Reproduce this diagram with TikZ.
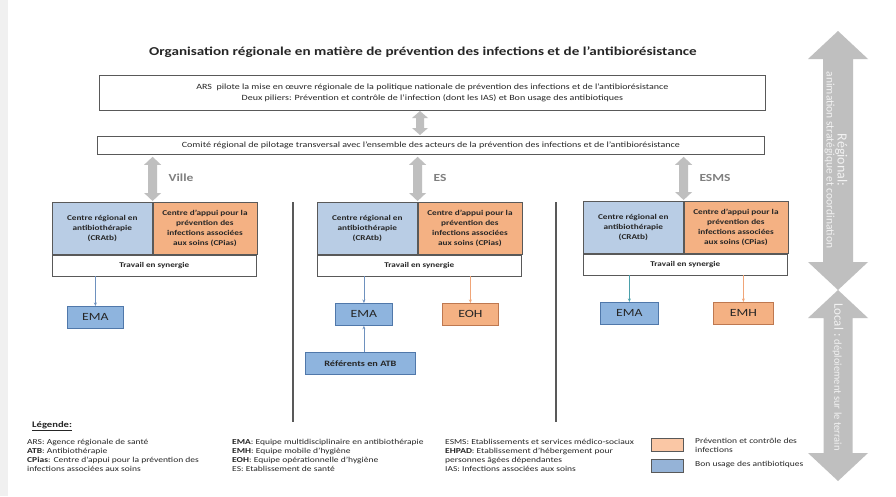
\documentclass[tikz,border=0pt]{standalone}
\usepackage{fontspec}
\setmainfont{Carlito}[FakeStretch=1.25]
\newfontfamily\rotfont{Carlito}
\usetikzlibrary{arrows.meta,calc}
\definecolor{lblue}{RGB}{185,205,229}
\definecolor{lorange}{RGB}{244,177,131}
\definecolor{mblue}{RGB}{142,180,222}
\definecolor{swor}{RGB}{250,199,165}
\definecolor{swbl}{RGB}{149,179,215}
\definecolor{garrow}{RGB}{191,191,191}
\definecolor{bord}{RGB}{89,89,89}
\definecolor{txt}{RGB}{38,38,38}
\definecolor{lbl}{RGB}{127,127,127}
\definecolor{cblue}{RGB}{110,145,190}
\definecolor{cteal}{RGB}{75,160,170}
\definecolor{corange}{RGB}{240,165,120}
\definecolor{sblueb}{RGB}{80,120,170}
\definecolor{soranb}{RGB}{190,120,80}
\definecolor{rtext}{RGB}{242,242,242}
\newcommand\blockarrow[5]{%
  \fill[garrow] let \p1=#1, \p2=#2 in
   (\x1,\y1) -- (\x1+#4pt,\y1-#5pt) -- (\x1+#3pt,\y1-#5pt) -- (\x1+#3pt,\y2+#5pt)
   -- (\x1+#4pt,\y2+#5pt) -- (\x1,\y2) -- (\x1-#4pt,\y2+#5pt) -- (\x1-#3pt,\y2+#5pt)
   -- (\x1-#3pt,\y1-#5pt) -- (\x1-#4pt,\y1-#5pt) -- cycle;}
\begin{document}
\begin{tikzpicture}[x=1pt,y=-1pt,
  every node/.style={text=txt},
  bigbox/.style={draw=bord, line width=0.8pt, anchor=north west, align=center, inner sep=0pt,
    font=\fontsize{8}{10.5}\selectfont},
  cbox/.style={draw=bord, line width=0.6pt, fill=lblue, minimum width=100pt, minimum height=52pt,
    inner sep=1pt, align=center, anchor=north west, font=\fontsize{7.4}{9.8}\selectfont\bfseries},
  obox/.style={cbox, fill=lorange, minimum width=104pt},
  trbox/.style={draw=bord, line width=0.6pt, fill=white, minimum width=204pt, minimum height=21pt,
    anchor=north west, font=\fontsize{7.3}{9}\selectfont\bfseries},
  sbox/.style={draw=sblueb, line width=0.8pt, fill=mblue, minimum width=56pt, minimum height=22pt,
    anchor=north west, inner sep=0pt, font=\fontsize{11}{12}\selectfont},
  ebox/.style={sbox, draw=soranb, fill=lorange},
  conn/.style={-{Stealth[length=3.5pt,width=3pt]}, line width=0.7pt},
  glabel/.style={text=lbl, font=\fontsize{10.8}{12}\selectfont\bfseries},
  leg/.style={anchor=west, align=left, inner sep=0pt, font=\fontsize{7.6}{8.8}\selectfont},
  sep/.style={draw=bord, line width=1.6pt}
]
\useasboundingbox (0,0) rectangle (896,496);
\fill[white] (0,0) rectangle (896,496);
\fill[black!6] (0,0) rectangle (8,496);

% title
\node[font=\fontsize{12.1}{14}\selectfont\bfseries] (title) at (423,52)
  {Organisation régionale en matière de prévention des infections et de l’antibiorésistance};

% top boxes
\node[bigbox, minimum width=666pt, minimum height=35pt] (ars) at (99,75)
  {ARS\ \ pilote la mise en œuvre régionale de la politique nationale de prévention des infections et de l’antibiorésistance\\
   Deux piliers: Prévention et contrôle de l’infection (dont les IAS) et Bon usage des antibiotiques};
\node[bigbox, minimum width=667pt, minimum height=18pt] (comite) at (97,136)
  {Comité régional de pilotage transversal avec l’ensemble des acteurs de la prévention des infections et de l’antibiorésistance};

\coordinate (a1) at (420,111);
\blockarrow{(a1)}{($(a1 |- comite.north)+(0,-1)$)}{4}{8}{7}

% groups
\foreach \g/\xx/\yy in {v/52/202, e/317/202, m/583/201}{
  \node[cbox] (\g b) at (\xx,\yy) {Centre régional en\\antibiothérapie\\(CRAtb)};
  \node[obox] (\g o) at (\g b.north east) {Centre d’appui pour la\\prévention des\\infections associées\\aux soins (CPias)};
  \node[trbox] (\g t) at (\g b.south west) {Travail en synergie};
  \blockarrow{($(\g b.north east |- comite.south)+(0,2)$)}{($(\g b.north east)+(0,-1)$)}{4.5}{8.5}{8}
}
\node[glabel] (lv) at (181,178) {Ville};
\node[glabel] (le) at (440,178) {ES};
\node[glabel] (lm) at (715,178) {ESMS};

% separators
\coordinate (s1t) at (293,202); \coordinate (s1b) at (293,422);
\coordinate (s2t) at (556,202); \coordinate (s2b) at (556,422);
\draw[sep] (s1t) -- (s1b);
\draw[sep] (s2t) -- (s2b);

% level 2
\node[sbox] (vema) at (67,306) {EMA};
\draw[conn, cblue] (vema.north |- vt.south) -- (vema.north);

\node[sbox, minimum width=57pt] (eema) at (335,303) {EMA};
\node[ebox] (eeoh) at (442,303) {EOH};
\node[sbox, minimum width=110pt, font=\fontsize{8.2}{9}\selectfont\bfseries] (eref) at (305,352) {Référents en ATB};
\draw[conn, cblue] (eema.north |- et.south) -- (eema.north);
\draw[conn, cblue] (eema.south |- eref.north) -- (eema.south);
\draw[conn, corange] (eeoh.north |- et.south) -- (eeoh.north);

\node[sbox, minimum width=58pt] (mema) at (600,302) {EMA};
\node[ebox, minimum width=60pt] (memh) at (713,302) {EMH};
\draw[conn, cteal] (mema.north |- mt.south) -- (mema.north);
\draw[conn, corange] (memh.north |- mt.south) -- (memh.north);

% right arrows
\coordinate (rtop) at (838,31);
\coordinate (rmid) at (838,290);
\coordinate (rbot) at (838,481);
\blockarrow{(rtop)}{(rmid)}{15}{30}{28}
\blockarrow{(rmid)}{(rbot)}{14.5}{30}{28}
\node[rotate=-90, align=center, text=rtext, inner sep=0pt] (rreg) at (836,160)
  {{\rotfont\fontsize{14}{15}\selectfont Régional:}\\[-1pt]{\rotfont\fontsize{11.5}{12}\selectfont animation stratégique et coordination}};
\node[rotate=-90, text=rtext, inner sep=0pt] (rloc) at (838,377)
  {\rotfont{\fontsize{13}{14}\selectfont Local :} {\fontsize{10.5}{12}\selectfont déploiement sur le terrain}};

% legend
\node[anchor=west, inner sep=0pt, font=\fontsize{8.5}{10}\selectfont\bfseries] (legt) at (32,426) {\underline{Légende:}};
\node[leg] (l1) at (27,455.5) {ARS: Agence régionale de santé\\\textbf{ATB}: Antibiothérapie\\\textbf{CPias}: Centre d’appui pour la prévention des\\infections associées aux soins};
\node[leg] (l2) at (232,455.5) {\textbf{EMA}: Equipe multidisciplinaire en antibiothérapie\\\textbf{EMH}: Equipe mobile d’hygiène\\\textbf{EOH}: Equipe opérationnelle d’hygiène\\ES: Etablissement de santé};
\node[leg] (l3) at (445,455.5) {ESMS: Etablissements et services médico-sociaux\\\textbf{EHPAD}: Etablissement d’hébergement pour\\personnes âgées dépendantes\\IAS: Infections associées aux soins};
\node[draw=bord, line width=0.6pt, fill=swor, minimum width=32pt, minimum height=13pt, anchor=north west, inner sep=0pt] (sw1) at (651,438) {};
\node[draw=bord, line width=0.6pt, fill=swbl, minimum width=32pt, minimum height=13pt, anchor=north west, inner sep=0pt] (sw2) at (651,459) {};
\node[leg] (st1) at (695,445) {Prévention et contrôle des\\infections};
\node[leg] (st2) at (695,465) {Bon usage des antibiotiques};
\end{tikzpicture}
\end{document}
